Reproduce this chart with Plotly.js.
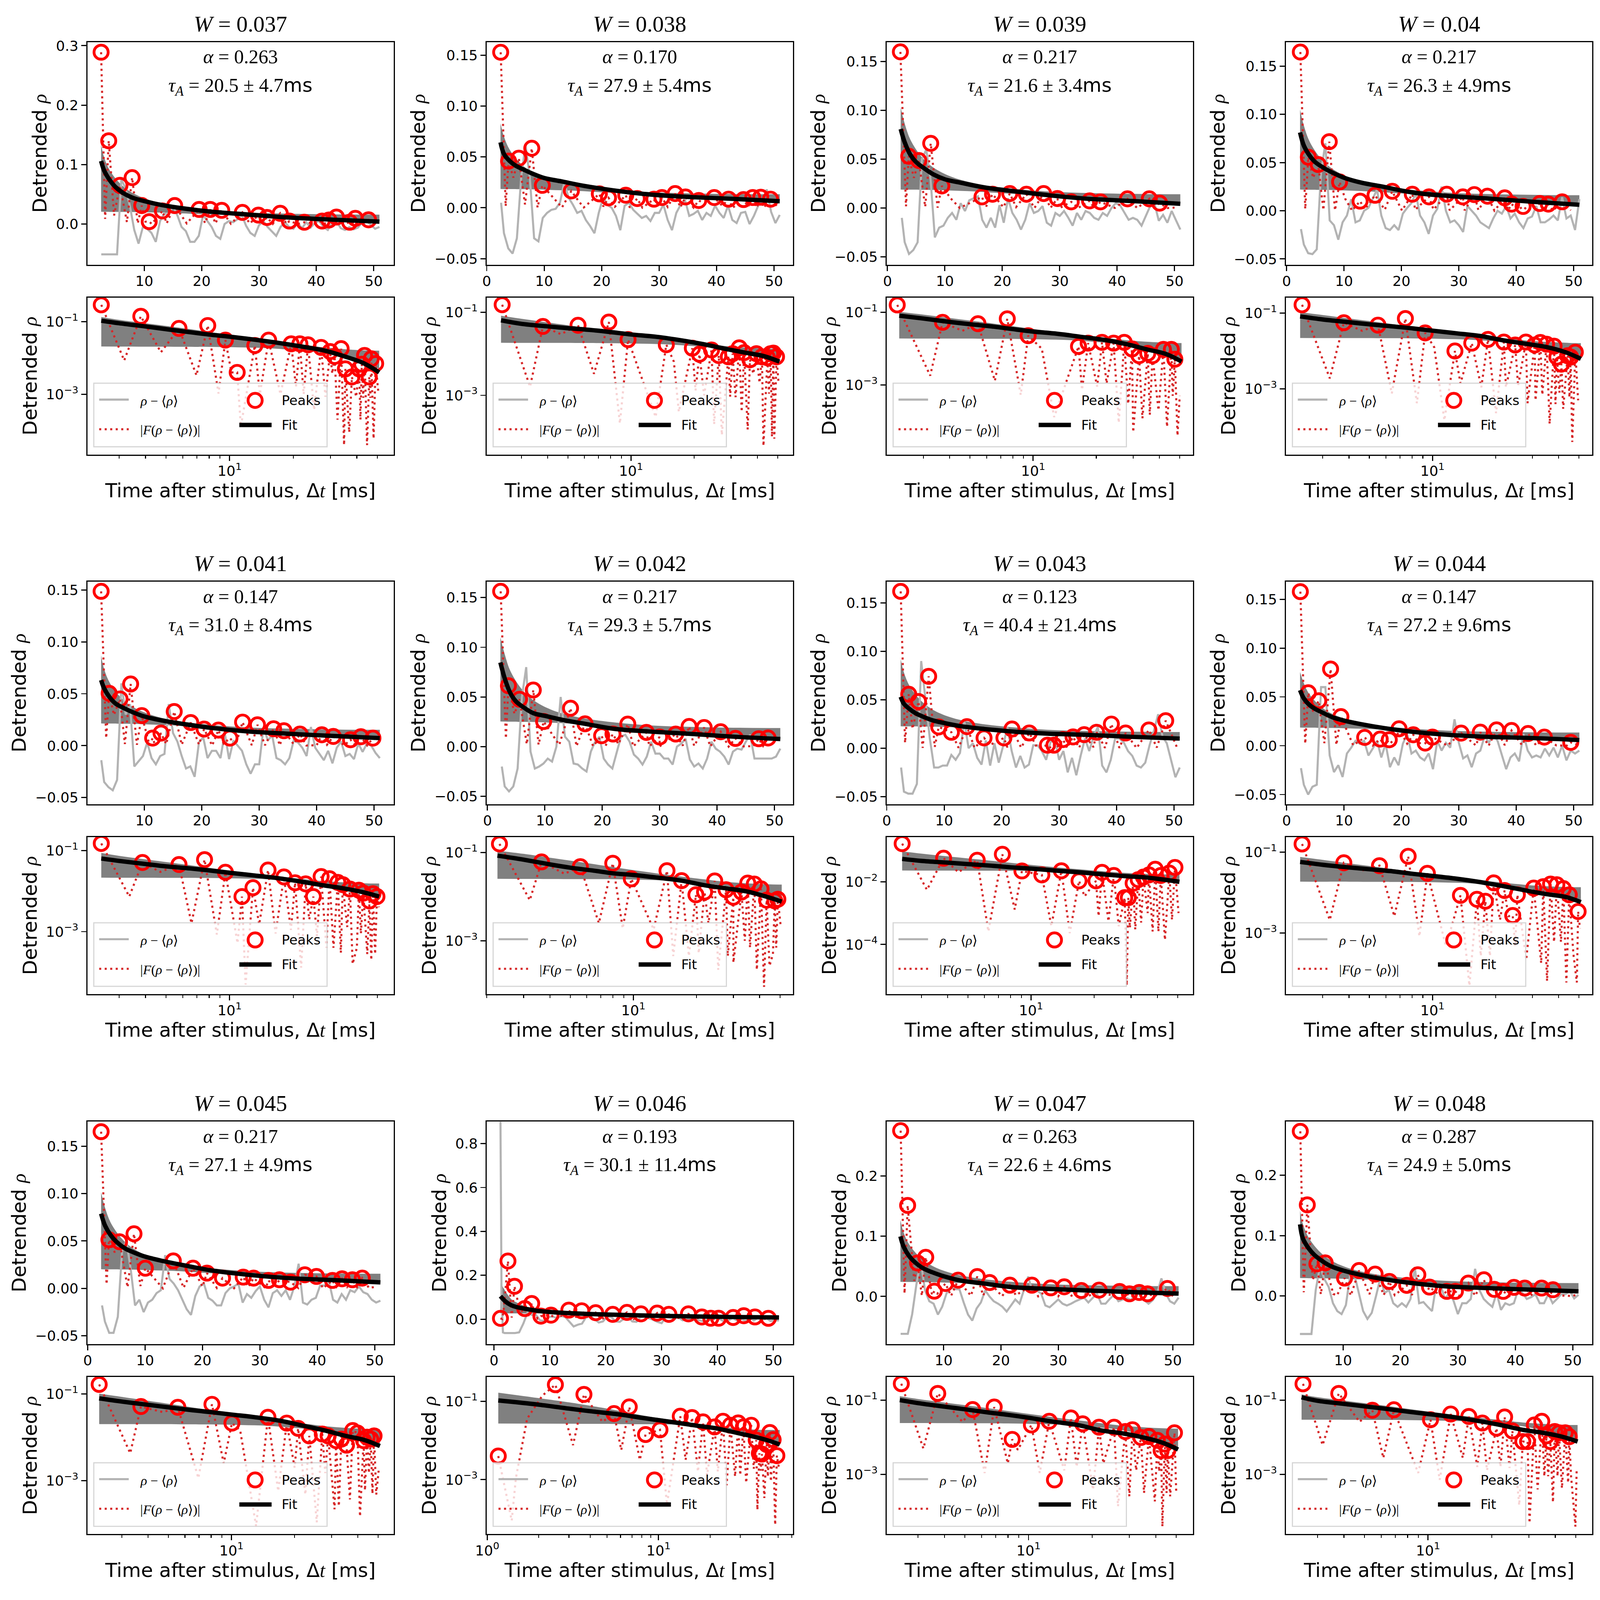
<!DOCTYPE html>
<html>
<head>
<meta charset="utf-8">
<script src="https://cdn.plot.ly/plotly-3.0.1.min.js"></script>
<style>html,body{margin:0;padding:0;background:#fff;overflow:hidden}</style>
</head>
<body>
<div id="myDiv"></div>
<script>
// one row per panel, W = 0.037 ... 0.048
const wLabels = ["0.037","0.038","0.039","0.04","0.041","0.042","0.043","0.044","0.045","0.046","0.047","0.048"];
const alphaLabels = ["0.263","0.170","0.217","0.217","0.147","0.217","0.123","0.147","0.217","0.193","0.263","0.287"];
const tauLabels = ["20.5 ± 4.7","27.9 ± 5.4","21.6 ± 3.4","26.3 ± 4.9","31.0 ± 8.4","29.3 ± 5.7","40.4 ± 21.4","27.2 ± 9.6","27.1 ± 4.9","30.1 ± 11.4","22.6 ± 4.6","24.9 ± 5.0"];

const startT = [2.47,2.4,2.3,2.34,2.47,2.25,2.43,2.34,2.34,1.16,2.46,2.52];

const peakT = [
  [2.47,3.8,5.76,7.88,9.55,10.86,13.16,15.3,19.56,21.5,23.5,27.1,29.9,31.4,33.7,35.3,37.9,41,42.2,43.5,45.8,46.8,49.1],
  [2.43,3.8,5.59,7.84,9.68,14.73,19.6,21.2,24.2,26.2,29.1,30.5,32.8,34.6,36.9,39.6,42.1,44.7,46.3,47.7,49.4],
  [2.25,3.7,5.46,7.53,9.47,16.46,18.3,21.3,24.2,27.2,29.6,32,35.2,37.1,41.8,45.6,47.4],
  [2.39,3.78,5.5,7.43,9.23,12.8,15.4,18.4,21.9,24.8,27.9,30.7,32.7,35,38,39.2,41.2,44.1,45.6,48],
  [2.47,3.87,5.76,7.61,9.55,11.44,12.9,15.2,18.07,20.4,22.9,24.9,27.1,29.7,32.5,34.3,37.1,40.9,42.9,45.9,47.7,49.8],
  [2.3,3.65,5.59,7.98,9.78,14.47,16.99,19.88,21.86,24.44,27.68,29.98,32.78,35.12,37.74,40.62,43.19,47.24,48.87],
  [2.43,3.83,5.54,7.3,9.05,11.26,13.96,16.94,20.4,21.8,24.82,27.97,29.1,30.68,32.43,34.37,36.53,39.1,41.58,45.63,48.56],
  [2.39,3.78,5.59,7.66,9.46,13.6,16.3,17.88,19.59,22.07,24.14,25.4,30.4,33.74,36.58,39.19,42.07,44.9,49.5],
  [2.34,3.7,5.55,8.07,10.05,14.92,18.35,20.78,23.49,27.1,28.9,31.51,33.41,35.35,37.83,39.86,42.65,44.32,46.12,47.84],
  [1.16,2.5,3.67,5.5,6.75,8.4,10.2,13.4,15.7,18.2,21.25,23.8,26.3,29.2,31.3,34.8,37.2,38.8,40.2,42.8,44.7,46.7,49.1],
  [2.5,3.72,5.44,6.88,8.37,10.32,12.53,15.87,18.04,21.56,25.4,28.7,31.04,34.02,37.13,40.7,42.42,44.13,45.58,49.05],
  [2.56,3.78,5.45,6.89,10.27,12.8,15.59,18.07,21.09,23.03,25.06,28.08,29.57,31.82,34.53,36.33,37.9,39.76,41.65,44.58,46.56]
];
const peakV = [
  [.289,.14,.065,.078,.031,.004,.022,.031,.0245,.0245,.023,.0195,.015,.011,.018,.005,.003,.005,.0067,.0117,.003,.0095,.007],
  [.153,.0459,.0488,.0586,.0221,.0166,.0137,.0098,.0124,.0091,.0085,.0101,.014,.0107,.0072,.0101,.0085,.0081,.0101,.0104,.0085],
  [.16,.0531,.0487,.0663,.0227,.0115,.0142,.0149,.0142,.0149,.0098,.0064,.0074,.0064,.0095,.0095,.0051],
  [.1647,.0556,.048,.0717,.0299,.01,.0161,.0202,.0172,.0144,.0172,.0144,.0168,.0151,.0134,.0069,.0045,.0075,.0069,.0093],
  [.1487,.0504,.045,.0594,.029,.0073,.0121,.0329,.0223,.016,.015,.0073,.0227,.0201,.0163,.0144,.0112,.0105,.0089,.0057,.0086,.0073],
  [.1563,.0613,.0477,.057,.0253,.0387,.023,.011,.0127,.0227,.0143,.0097,.0127,.0203,.0193,.015,.0083,.008,.0087],
  [.162,.0557,.0482,.0742,.0219,.0164,.0222,.0106,.0106,.0198,.0157,.0031,.0031,.0089,.0116,.014,.0164,.0249,.0157,.0188,.0284],
  [.1578,.0542,.046,.0785,.0298,.0085,.0068,.0061,.0173,.0112,.0027,.0088,.0129,.0139,.0162,.0156,.0125,.0088,.0034],
  [.1654,.0513,.0492,.0576,.0213,.029,.0213,.0161,.0108,.0119,.0108,.0084,.0091,.0066,.0143,.0126,.0084,.0101,.0091,.0108],
  [.004,.265,.15,.0486,.0718,.0142,.0187,.0416,.0385,.0298,.0222,.031,.0245,.028,.0222,.0245,.0102,.0047,.0045,.0079,.016,.0105,.0041],
  [.275,.151,.0556,.065,.0088,.0215,.027,.0331,.0231,.0187,.0187,.0143,.016,.0099,.0105,.0083,.0044,.0066,.0044,.0132],
  [.273,.151,.0533,.0549,.0297,.0423,.0363,.0242,.0176,.0352,.0148,.0077,.0077,.0214,.0269,.011,.0077,.0143,.0132,.0132,.0104]
];

// minima of the dotted curve between the peaks
const dipT = [
  [3.17,4.73,6.97,8.86,10.2,11.3,13.9,17.4,20.6,22.4,25.1,28.4,30.6,32.4,34.8,36.8,39.7,41.6,42.9,44.7,46.3,48,50.5],
  [3.3,4.63,6.66,8.85,13.1,16,16.9,20.3,22.3,24.9,27.1,29.7,31.5,33.7,36,38.3,41,42.8,45.5,47,48.2,50.5],
  [3.23,4.6,6.57,8.73,11,12.6,17.1,20.2,22.4,25.6,28.4,30,33.2,36,39.6,43.5,46.3,48.8,50],
  [3.24,4.62,6.4,8.43,10.2,11.4,13.6,17.1,20.1,22.4,25.6,28.4,31,33.4,36.2,38.6,40.3,42,45,46.4,49.5],
  [3.35,4.7,6.6,8.7,10.9,11.9,13.8,16.5,19.5,21.8,23.8,25.9,28.7,31,33.6,36,38.2,40,41.8,44.8,46.8,48.8,50.8],
  [3.21,4.7,6.85,8.9,12.5,15.5,18.4,20.5,22.8,25.4,28.2,30,34,36,38.8,42,44.6,46.3,48,50.5],
  [3.19,4.5,6.26,8.36,12.5,15.3,18,21,23.4,26.2,28.6,29.6,31.4,33.5,36,38,40.5,43.5,47,50.5],
  [3.24,4.62,6.58,8.67,11.6,15,17,18.8,21,23,24.8,28,33,35.2,38,41,43.5,47,48.8,50.5],
  [3.29,4.71,6.95,9.18,11,13.1,16.7,20,22.5,25.5,28,31,32.5,36.7,41,43.3,45.2,47,49,50.3],
  [1.39,1.47,1.71,2.1,3.17,4.7,6.06,7.78,11.2,14.4,17,19.2,22.2,25,28,30,32.5,36,37.8,39.5,41.5,43.5,45.3,48,50.5],
  [3.18,4.87,6.2,7.98,8.9,11.3,14.76,16.9,20.2,22.6,26.5,30,32.3,35.2,39.6,41.5,43,45,46.8,50],
  [3.17,4.74,6.14,8.3,8.98,11.35,14.6,17.1,19,22,24.3,27,30.2,33,35.5,37,39,41,43,46,47.5,49.8,50.5]
];
const dipV = [
  [.0085,.0143,.0033,.00105,.004,.00013,.001,.001,.0016,.001,.00037,.00085,.0037,.0002,.00004,.00009,.00085,.0002,.0008,.00004,.0008,.00006,.0012],
  [.0016,.0298,.0033,.00021,.0003,.0065,.0004,.0013,.001,.0002,.00011,.00093,.0009,.0004,.00015,.0033,.002,.00006,.0011,.0001,.00009,.002],
  [.0018,.031,.0013,.00053,.01,.00013,.00073,.0009,.0011,.00009,.0003,.00005,.00012,.00015,.0002,.00007,.0005,.00004,.0005],
  [.0019,.034,.00076,.00042,.0125,.00015,.0014,.0011,.00023,.0011,.0012,.00042,.0005,.0007,.00012,.0004,.0008,.0003,.0006,.00004,.0005],
  [.0073,.0296,.0016,.00085,.00052,.00005,.0015,.0009,.0011,.00013,.002,.00077,.0004,.0004,.0003,.0013,.00016,.0004,.0009,.00028,.0002,.00028,.004],
  [.0083,.033,.0025,.0019,.0018,.00045,.00045,.00052,.0025,.00022,.00045,.00032,.001,.0007,.00022,.00009,.00027,.0005,.0007,.002],
  [.0055,.02,.00026,.0013,.00038,.00023,.0034,.0008,.00055,.00038,.000005,.00034,.0003,.0005,.001,.00026,.00026,.00014,.00061,.001],
  [.0021,.035,.0026,.00083,.00047,.00005,.00027,.00027,.0021,.0026,.00047,.00022,.00018,.000065,.0006,.0006,.00006,.0003,.00006,.0013],
  [.0043,.038,.00115,.0025,.0145,.00009,.00058,.002,.00048,.00011,.0015,.00022,.00026,.00037,.00015,.0006,.0015,.0005,.00048,.0017],
  [.00009,.0011,.036,.14,.0076,.03,.0057,.0032,.00023,.0032,.0016,.0013,.0016,.00072,.0012,.0013,.00083,.0019,.00017,.0017,.00034,.0012,.0009,.00007,.002],
  [.005,.026,.0011,.002,.0046,.0011,.0013,.0016,.00039,.002,.00014,.00026,.0013,.00032,.00019,.0012,.00004,.00032,.00026,.00032],
  [.0062,.026,.0028,.0033,.0011,.00072,.0028,.0016,.0013,.0016,.0015,.00015,.00005,.0004,.0009,.0009,.00018,.0009,.00043,.0006,.0009,.00004,.0015]
];

const fitT = [3,4,5,6.5,8,10,13,17,22,28,35,43,51];
const fitT46 = [2,3,4,6,8,10,13,17,22,28,35,43,51];
const fitV = [
  [.106,.09,.0735,.062,.051,.044,.0385,.032,.026,.0205,.016,.011,.0072,.004],
  [.0644,.053,.046,.0416,.0374,.0335,.0293,.026,.0215,.0172,.0133,.0107,.0088,.0065],
  [.081,.0674,.0545,.047,.0403,.0345,.0295,.0257,.021,.0173,.0132,.0095,.0071,.0044],
  [.0813,.0676,.0573,.0504,.0443,.0395,.0343,.0292,.0247,.0189,.0154,.0127,.0093,.0062],
  [.0632,.0552,.0463,.0405,.036,.0322,.0281,.0243,.0207,.0169,.0137,.0115,.0093,.0073],
  [.0847,.0687,.0537,.0453,.0387,.0337,.031,.027,.023,.018,.0153,.013,.01,.0077],
  [.053,.0458,.0403,.0362,.0321,.0287,.026,.0226,.0198,.0171,.015,.0137,.0116,.0099],
  [.0569,.0484,.0416,.0376,.0332,.0291,.0257,.022,.018,.0142,.0112,.0091,.0078,.0058],
  [.0789,.0666,.0562,.0492,.0422,.038,.0335,.029,.0241,.0185,.0143,.0108,.0087,.0063],
  [.105,.082,.065,.0557,.0458,.0377,.033,.0281,.0236,.0202,.016,.0129,.0102,.0079],
  [.0997,.083,.0667,.0567,.0463,.0402,.0336,.0264,.0215,.0154,.0127,.0099,.0072,.0047],
  [.1187,.0956,.0791,.0681,.0571,.0489,.0423,.0352,.028,.0214,.0159,.0132,.0104,.0077]
];

const bandT = [3,4,6,8,11,15,20,28,36,45,51];
const bandUp = [
  [.134,.112,.09,.066,.052,.04,.031,.025,.0195,.0172,.016,.0158],
  [.083,.0701,.0571,.043,.0347,.0276,.0223,.0187,.0155,.0141,.0134,.0133],
  [.103,.0866,.07,.052,.0415,.0324,.0257,.0211,.017,.0153,.0144,.0142],
  [.105,.0885,.0719,.0539,.0434,.0343,.0276,.023,.0189,.0172,.0163,.0161],
  [.087,.0737,.0603,.0458,.0373,.03,.0245,.0209,.0175,.0162,.0154,.0153],
  [.11,.0931,.076,.0576,.0467,.0374,.0305,.0258,.0215,.0198,.0189,.0187],
  [.092,.0781,.064,.0488,.0398,.0321,.0264,.0226,.019,.0176,.0169,.0167],
  [.0755,.064,.0524,.0399,.0325,.0262,.0215,.0183,.0154,.0142,.0136,.0135],
  [.1015,.0856,.0695,.0521,.0418,.0331,.0265,.0221,.0181,.0164,.0156,.0154],
  [.166,.094,.077,.056,.044,.035,.029,.0245,.0205,.019,.0185,.0185],
  [.127,.1067,.0861,.0639,.0508,.0396,.0313,.0257,.0205,.0184,.0173,.0171],
  [.142,.1197,.0971,.0728,.0584,.0461,.037,.0308,.0251,.0228,.0216,.0214]
];
const bandLo = [
  [.0206,.0205,.0204,.0203,.0201,.0195,.0186,.0165,.0136,.01,.0069,.005],
  [.0185,.0184,.0184,.0183,.0181,.0176,.0169,.0153,.0129,.01,.0075,.006],
  [.019,.0189,.0189,.0187,.0186,.018,.0171,.0152,.0125,.0091,.0062,.0045],
  [.022,.0219,.0218,.0217,.0215,.0209,.0199,.0179,.0149,.0113,.0081,.0062],
  [.0214,.0213,.0213,.0211,.021,.0204,.0195,.0177,.0149,.0116,.0087,.007],
  [.0253,.0252,.0251,.0249,.0248,.0241,.023,.0207,.0173,.0132,.0096,.0075],
  [.0226,.0225,.0225,.0223,.0222,.0217,.0209,.0193,.0168,.0139,.0113,.0098],
  [.0186,.0185,.0185,.0183,.0182,.0177,.0169,.0152,.0128,.0098,.0072,.0057],
  [.0202,.0201,.0201,.0199,.0198,.0192,.0184,.0165,.0138,.0105,.0077,.006],
  [.027,.0268,.0266,.0262,.026,.0257,.025,.022,.0184,.014,.0102,.0079],
  [.0242,.0241,.024,.0238,.0236,.0228,.0217,.0191,.0154,.0109,.007,.0047],
  [.0297,.0296,.0295,.0293,.029,.0282,.0268,.024,.0198,.0147,.0103,.0077]
];

// rho minus its mean, top panels only
const grayT = [2.5,3,3.75,4.5,5.25,6,6.75,7.5,8.25,9,9.75,10.5,11.25,12,12.75,13.5,14.25,15,15.75,16.5,17.25,18,18.75,19.5,20.25,21,21.75,22.5,23.25,24,24.75,25.5,26.25,27,27.75,28.5,29.25,30,30.75,31.5,32.25,33,33.75,34.5,35.25,36,36.75,37.5,38.25,39,39.75,40.5,41.25,42,42.75,43.5,44.25,45,45.75,46.5,47.25,48,48.75,49.5,50.25,51];
const grayPre46T = [1.16,1.22,1.35,1.6,1.9];
const grayPre46V = [.9,.6,.12,-.06,-.063];
const grayV = [
  [-.051,-.051,-.051,-.051,-.051,.075,.06,.03,-.01,-.033,-.005,-.008,-.015,-.03,.005,.018,.015,.03,.015,-.005,-.012,-.03,-.03,-.02,.015,.005,-.005,-.02,-.025,0,.005,.003,.008,.015,-.003,-.015,-.02,-.002,.005,-.005,-.012,-.02,-.005,.003,-.005,-.008,.002,-.007,.003,-.006,.002,.005,-.005,-.01,.002,.005,-.007,-.01,-.005,-.009,-.006,.003,.005,-.002,-.008,-.005],
  [.005,-.025,-.04,-.045,-.03,.03,.062,.03,-.03,-.033,-.01,-.005,-.002,-.001,.005,.025,.01,.003,-.005,-.003,-.012,-.018,-.025,-.005,.01,.003,0,-.008,-.022,.002,.005,-.002,-.006,-.01,-.008,-.013,-.005,-.005,.003,-.012,-.022,-.005,.003,.008,-.008,-.006,-.003,-.012,-.005,-.008,.002,-.005,-.01,.002,-.012,-.015,-.005,-.004,-.016,-.008,.002,.008,.018,-.004,-.015,-.007],
  [-.01,-.035,-.047,-.043,-.035,.05,.06,.03,-.03,-.02,-.018,-.01,-.005,-.012,.005,-.003,.008,.01,.012,-.012,-.02,-.01,-.02,.003,-.015,.01,-.005,-.012,-.022,-.012,.005,-.005,-.003,.002,-.015,-.018,-.005,-.008,-.003,-.01,-.018,-.005,-.012,-.003,-.005,-.01,-.012,-.005,-.008,0,.005,.003,-.005,-.012,-.01,-.012,-.018,-.008,.002,.005,-.013,-.007,-.015,-.003,-.012,-.022],
  [-.019,-.035,-.044,-.045,-.04,.04,.07,-.01,-.015,-.03,-.012,-.005,.012,-.012,-.01,0,.003,.012,.022,-.005,-.018,-.02,-.015,-.02,-.003,.003,.008,.018,-.005,-.012,-.024,-.005,.002,.025,0,-.012,-.01,-.015,-.022,.005,0,-.005,-.012,-.015,-.018,-.008,0,-.003,.005,-.008,-.003,-.012,-.018,-.008,-.006,.005,-.012,-.012,-.009,-.005,-.01,.014,-.008,-.005,-.02,.012],
  [-.014,-.035,-.04,-.043,-.033,.06,.03,.04,-.02,-.015,-.01,.003,-.012,-.018,-.01,-.008,.04,.012,.004,-.01,-.022,-.02,-.03,.003,.008,-.012,-.005,-.005,-.012,.012,-.013,.005,0,-.005,-.018,-.027,-.018,-.018,.018,.005,.01,-.012,-.014,-.018,-.012,.005,.003,-.002,-.01,.018,-.002,-.008,-.014,-.005,-.017,-.002,.004,-.01,-.008,-.013,.002,-.006,.002,0,-.007,-.012],
  [-.02,-.04,-.045,-.04,-.022,.05,.08,-.005,-.022,-.02,-.017,-.012,-.015,0,.05,.01,.005,-.017,-.018,-.022,-.025,-.005,.005,.01,-.012,-.018,-.022,-.005,.01,.012,.005,-.008,-.012,-.018,-.01,.005,-.007,-.007,-.012,-.012,-.018,0,.003,.008,-.013,-.02,-.017,-.022,-.012,.005,-.002,-.005,-.01,-.018,-.005,-.002,-.003,.005,.012,-.012,-.012,-.012,-.012,-.012,-.01,-.002],
  [-.02,-.045,-.047,-.047,-.037,.09,.05,.01,-.02,-.02,-.018,-.018,-.007,-.012,-.005,.028,0,.005,-.01,-.017,.008,-.018,.005,-.015,.002,.022,-.003,-.02,-.008,-.02,-.017,.003,.003,-.003,-.012,.006,.01,-.012,-.003,-.025,-.01,-.028,-.008,.01,-.003,.012,.022,-.018,-.025,-.012,.01,.01,.006,-.003,-.008,-.018,-.02,-.015,.003,.018,.035,.012,.005,-.012,-.03,-.02],
  [-.023,-.04,-.05,-.042,-.04,.06,.06,-.01,-.027,-.02,-.032,-.008,-.002,.005,.002,.005,-.01,-.003,.005,-.012,.002,-.022,-.012,-.02,.002,.012,-.008,-.005,-.012,-.015,-.008,-.024,.005,-.005,.003,-.002,.027,.003,-.013,-.01,-.022,-.008,-.005,.01,.003,.012,.005,-.01,-.024,-.012,-.008,-.016,.012,-.005,-.012,-.01,-.012,-.003,-.01,-.002,-.012,0,-.015,-.005,-.008,-.005],
  [-.018,-.035,-.047,-.047,-.03,.04,.05,.02,-.018,-.012,-.025,-.015,-.012,-.005,-.002,.035,.01,.005,-.002,-.012,-.022,-.028,-.008,.002,.005,-.01,-.013,-.018,-.018,-.005,0,.002,.005,-.015,-.006,-.01,-.003,.002,-.012,-.02,-.005,-.002,-.008,-.002,-.012,.002,.026,-.015,-.017,-.012,-.01,.003,.003,.008,-.012,-.015,-.006,-.012,-.002,-.004,.002,-.004,-.006,-.012,-.015,-.013],
  [-.063,-.063,-.063,-.06,-.02,.03,.02,.02,-.005,-.008,.01,.012,.005,.015,.01,-.01,-.033,-.025,-.02,.01,.012,0,-.015,-.01,.012,.01,-.01,-.012,.002,.01,-.01,-.012,.01,.012,.005,-.003,-.012,-.018,.01,.008,.005,.008,-.005,-.002,.006,-.005,-.005,-.01,-.002,-.004,.005,0,-.012,-.004,.005,-.006,.002,-.008,.008,-.006,.006,-.002,.004,-.008,-.005,-.005],
  [-.062,-.062,-.062,-.03,.02,.06,.01,-.008,-.012,-.03,-.017,.005,.015,.012,.012,-.01,-.03,-.04,-.02,-.01,.01,0,-.008,-.012,-.017,-.025,-.015,-.005,-.012,.01,.033,.008,.01,.005,-.015,-.018,-.012,-.005,-.012,-.015,-.012,-.008,-.005,-.002,-.01,-.003,.005,-.012,-.012,-.004,.003,-.008,-.005,-.003,-.006,.008,.003,-.006,-.012,-.006,.005,.03,.005,-.008,-.012,-.002],
  [-.063,-.063,-.063,-.063,.01,.05,.028,.015,-.012,-.025,-.03,-.015,.035,.035,.005,-.025,-.038,-.028,0,.03,.005,.01,-.012,-.018,-.012,-.018,-.005,.048,-.012,-.01,-.018,-.025,.02,.018,-.005,.005,-.008,-.03,-.012,-.012,-.005,.045,.01,-.005,-.012,-.018,.005,-.023,-.012,-.015,-.012,.01,.005,-.005,-.002,.003,-.012,-.012,.003,-.012,-.005,.003,.003,.008,-.004,.002]
];

// axis ranges
const xRange = [[.08,53.47],[0,53.3],[-.13,53.2],[-.1,53.25],[.08,53.4],[-.13,53.2],[0,53.3],[-.1,53.25],[-.05,53.3],[-1.3,53.5],[.07,53.5],[.08,53.4]];
const yRange = [[-.0685,.306],[-.056,.163],[-.058,.17],[-.056,.175],[-.0565,.158],[-.058,.166],[-.058,.172],[-.06,.168],[-.059,.176],[-.114,.9],[-.0793,.29],[-.08,.289]];
const yStep = [.1,.05,.05,.05,.05,.05,.05,.05,.05,.2,.1,.1];
const logXRange = [[.327,1.776],[.312,1.772],[.302,1.762],[.302,1.762],[.327,1.776],[.301,1.761],[.312,1.772],[.302,1.762],[.313,1.773],[-.003,1.785],[.329,1.778],[.328,1.777]];
const logYRange = [[-4.66,-.336],[-4.43,-.64],[-4.92,-.59],[-4.73,-.59],[-4.54,-.67],[-4.21,-.65],[-5.58,-.58],[-4.51,-.63],[-4.23,-.61],[-4.39,-.38],[-4.6,-.38],[-4.6,-.38]];
const logYTicks = [[.1,.001],[.1,.001],[.1,.001],[.1,.001],[.1,.001],[.1,.001],[.01,.0001],[.1,.001],[.1,.001],[.1,.001],[.1,.001],[.1,.001]];
const logYTickText = {0.1:"10<sup>−1</sup>",0.01:"10<sup>−2</sup>",0.001:"10<sup>−3</sup>",0.0001:"10<sup>−4</sup>"};

// page positions in the 4760x4104 reference, scaled below to the real window
const colLeft = [260,1448,2638,3826];
const rowTop = [108,1492,2877];
const axW = 911, topH = 571, lowGap = 84, lowH = 403;
const REF_W = 4760, REF_H = 4104;

const W = window.innerWidth, H = window.innerHeight;
const sx = W / REF_W, sy = H / REF_H, s = Math.min(sx, sy);

const SANS = "DejaVu Sans";
const SERIF = "Liberation Serif";
const rho = '<span style="font-family:' + SERIF + '"><i>ρ</i></span>';
const serif = t => '<span style="font-family:' + SERIF + '">' + t + '</span>';
const lightGray = "#b3b3b3", bandGray = "#808080", dotRed = "#d62728";
const minorLog = [1,2,3,4,5,6,7,8,9,20,30,40,50,60,70,80,90];
const dash = (6.2 * s) + "px," + (10.2 * s) + "px";

function mergeCurve(i) {
  let pts = [];
  peakT[i].forEach((t, k) => pts.push([t, peakV[i][k]]));
  dipT[i].forEach((t, k) => pts.push([t, dipV[i][k]]));
  pts.sort((a, b) => a[0] - b[0]);
  return pts;
}

function axisBase() {
  return {
    showgrid: false, zeroline: false, showline: true, mirror: true,
    linecolor: "black", linewidth: 3.4 * s, ticks: "outside", ticklen: 15 * s, tickwidth: 3.4 * s,
    tickcolor: "black", tickfont: {family: SANS, size: 42 * s, color: "black"}
  };
}

let data = [], shapes = [], annotations = [];
let layout = {
  width: W, height: H, margin: {l: 0, r: 0, t: 0, b: 0, pad: 0}, showlegend: false,
  paper_bgcolor: "white", plot_bgcolor: "white", font: {family: SANS, color: "black"}
};

for (let i = 0; i < 12; i++) {
  let col = i % 4, row = Math.floor(i / 4);
  let xTop = "x" + (2 * i + 1), yTop = "y" + (2 * i + 1);
  let xLow = "x" + (2 * i + 2), yLow = "y" + (2 * i + 2);
  let left = colLeft[col], top = rowTop[row];
  let xDom = [left / REF_W, (left + axW) / REF_W];
  let topDom = [1 - (top + topH) / REF_H, 1 - top / REF_H];
  let lowTop = top + topH + lowGap;
  let lowDom = [1 - (lowTop + lowH) / REF_H, 1 - lowTop / REF_H];

  layout["xaxis" + (2 * i + 1)] = Object.assign(axisBase(), {
    domain: xDom, anchor: yTop, range: xRange[i], tickmode: "linear", tick0: 0, dtick: 10,
    ticklabelstandoff: Math.round(-6 * s)
  });
  layout["yaxis" + (2 * i + 1)] = Object.assign(axisBase(), {
    domain: topDom, anchor: xTop, range: yRange[i], tickmode: "linear", tick0: 0, dtick: yStep[i],
    tickformat: yStep[i] == .05 ? ".2f" : ".1f",
    title: {text: "Detrended " + rho, font: {family: SANS, size: 58 * s}, standoff: 9 * s}
  });
  let xTicks = i == 9 ? [1, 10] : [10];
  layout["xaxis" + (2 * i + 2)] = Object.assign(axisBase(), {
    domain: xDom, anchor: yLow, type: "log", range: logXRange[i], tickmode: "array",
    tickvals: xTicks, ticktext: xTicks.map(v => v == 1 ? "10<sup>0</sup>" : "10<sup>1</sup>"),
    ticklabelstandoff: Math.round(-6 * s),
    minor: {tickmode: "array", tickvals: minorLog, ticks: "outside", ticklen: 8 * s, tickwidth: 2.6 * s, tickcolor: "black", showgrid: false},
    title: {text: "Time after stimulus, Δ" + serif("<i>t</i>") + " [ms]", font: {family: SANS, size: 58 * s}, standoff: 11 * s}
  });
  layout["yaxis" + (2 * i + 2)] = Object.assign(axisBase(), {
    domain: lowDom, anchor: xLow, type: "log", range: logYRange[i], tickmode: "array",
    tickvals: logYTicks[i], ticktext: logYTicks[i].map(v => logYTickText[v]),
    title: {text: "Detrended " + rho, font: {family: SANS, size: 58 * s}, standoff: 9 * s}
  });

  let curve = mergeCurve(i);
  let curveT = curve.map(p => p[0]), curveV = curve.map(p => p[1]);
  let fitX = [startT[i]].concat(i == 9 ? fitT46 : fitT);
  let bandX = [startT[i]].concat(bandT);
  let grayX = i == 9 ? grayPre46T.concat(grayT.slice(2)) : grayT;
  let grayY = i == 9 ? grayPre46V.concat(grayV[i].slice(2)) : grayV[i];

  [[xTop, yTop], [xLow, yLow]].forEach((ax, k) => {
    let isLow = k == 1;
    let base = {xaxis: ax[0], yaxis: ax[1], type: "scatter", hoverinfo: "skip", showlegend: false};
    data.push(Object.assign({}, base, {x: bandX, y: bandLo[i], mode: "lines", line: {width: 0, color: bandGray, shape: "spline"}}));
    data.push(Object.assign({}, base, {x: bandX, y: bandUp[i], mode: "lines", line: {width: 0, color: bandGray, shape: "spline"}, fill: "tonexty", fillcolor: bandGray}));
    if (!isLow) {
      data.push(Object.assign({}, base, {x: grayX, y: grayY, mode: "lines", line: {color: lightGray, width: 6.2 * s}}));
    }
    data.push(Object.assign({}, base, {x: curveT, y: curveV, mode: "lines", line: {color: dotRed, width: 6.2 * s, dash: dash}}));
    data.push(Object.assign({}, base, {
      x: peakT[i], y: peakV[i], mode: "markers",
      marker: {symbol: "circle-open", size: 42 * s, color: "red", line: {width: 8.4 * s, color: "red"}}
    }));
    data.push(Object.assign({}, base, {x: fitX, y: fitV[i], mode: "lines", line: {color: "black", width: 13 * s, shape: "spline"}}));
  });

  // legend, drawn inside the log panel: x px and y px counted from the panel's top left
  let fx = px => px / axW, fy = py => 1 - py / lowH;
  let legRef = {xref: xLow + " domain", yref: yLow + " domain"};
  shapes.push(Object.assign({type: "rect", layer: "above", x0: fx(19), x1: fx(713), y0: fy(383), y1: fy(220),
    fillcolor: "rgba(255,255,255,0.8)", line: {color: "rgba(204,204,204,0.8)", width: 3.4 * s}}, legRef));
  shapes.push(Object.assign({type: "line", layer: "above", x0: fx(35), x1: fx(123), y0: fy(262), y1: fy(262),
    line: {color: lightGray, width: 6.2 * s}}, legRef));
  shapes.push(Object.assign({type: "line", layer: "above", x0: fx(35), x1: fx(123), y0: fy(338), y1: fy(338),
    line: {color: dotRed, width: 6.2 * s, dash: dash}}, legRef));
  shapes.push(Object.assign({type: "line", layer: "above", x0: fx(452), x1: fx(548), y0: fy(327), y1: fy(327),
    line: {color: "black", width: 13 * s}}, legRef));
  let rX = 21 * s / (axW * sx), rY = 21 * s / (lowH * sy);
  shapes.push(Object.assign({type: "circle", layer: "above", x0: fx(499) - rX, x1: fx(499) + rX, y0: fy(264) - rY, y1: fy(264) + rY,
    line: {color: "red", width: 8.4 * s}}, legRef));
  let legText = (px, py, txt) => annotations.push(Object.assign({x: fx(px), y: fy(py), xanchor: "left", yanchor: "middle", showarrow: false,
    text: txt, font: {family: SANS, size: 40 * s, color: "black"}}, legRef));
  legText(155, 265, rho + serif(" − ⟨") + rho + serif("⟩"));
  legText(155, 340, serif("|<i>F</i>(") + rho + serif(" − ⟨") + rho + serif("⟩)|"));
  legText(576, 264, "Peaks");
  legText(576, 327, "Fit");

  annotations.push({
    xref: xTop + " domain", yref: yTop + " domain", x: .5, y: 1.082, xanchor: "center", yanchor: "middle", showarrow: false,
    text: "<i>W</i> = " + wLabels[i], font: {family: SERIF, size: 67 * s, color: "black"}
  });
  annotations.push({
    xref: xTop + " domain", yref: yTop + " domain", x: .5, y: .933, xanchor: "center", yanchor: "middle", showarrow: false,
    text: "<i>α</i> = " + alphaLabels[i], font: {family: SERIF, size: 58 * s, color: "black"}
  });
  annotations.push({
    xref: xTop + " domain", yref: yTop + " domain", x: .5, y: .802, xanchor: "center", yanchor: "middle", showarrow: false,
    text: "<i>τ<sub>A</sub></i> = " + tauLabels[i] + '<span style="font-family:' + SANS + '">ms</span>',
    font: {family: SERIF, size: 58 * s, color: "black"}
  });
}

layout.shapes = shapes;
layout.annotations = annotations;

Plotly.newPlot("myDiv", data, layout, {staticPlot: true, displayModeBar: false});
</script>
</body>
</html>
